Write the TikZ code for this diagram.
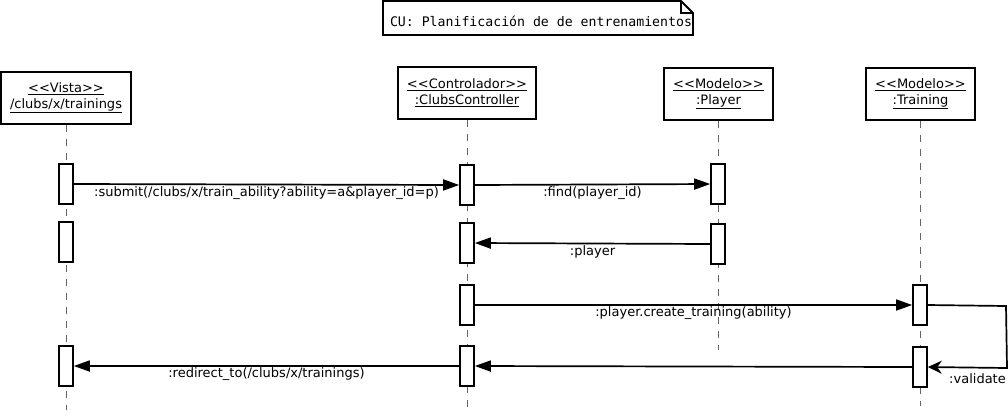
\documentclass[tikz,border=0pt]{standalone}
\usepackage{fontspec}
\setmainfont{DejaVu Sans}
\setmonofont{DejaVu Sans Mono}
\usetikzlibrary{arrows.meta, positioning, calc}

\begin{document}
\begin{tikzpicture}[x=1pt, y=-1pt,
  obj/.style={draw, line width=1.8pt, fill=white, align=center, inner sep=2pt,
    font=\fontsize{13}{16}\selectfont},
  act/.style={draw, line width=1.6pt, fill=white, minimum width=14pt,
    minimum height=40pt, inner sep=0pt},
  life/.style={draw=black!60, dash pattern=on 7pt off 7pt, line width=1pt},
  msg/.style={line width=1.7pt, -{Triangle[length=16pt, width=11pt]}},
  lbl/.style={font=\fontsize{13}{14}\selectfont, anchor=north, inner sep=1pt}]
\useasboundingbox (0,0) rectangle (1008,416);

% note
\node[font=\ttfamily\fontsize{13.2}{15}\selectfont, inner sep=0pt] (cu) at (541,21)
  {CU: Planificación de de entrenamientos};
\draw[line width=1.8pt] (383,1) -- (681,1) -- (693,13) -- (693,35) -- (383,35) -- cycle;
\draw[line width=1.2pt] (681,1) -- (681,13) -- (693,13);

% objects
\node[obj, minimum width=130pt, minimum height=52pt] (vista) at (66,98)
  {\underline{{<}{<}Vista{>}{>}}\\\underline{/clubs/x/trainings}};
\node[obj, minimum width=138pt, minimum height=52pt] (ctrl) at (467,93)
  {\underline{{<}{<}Controlador{>}{>}}\\\underline{:ClubsController}};
\node[obj, minimum width=109pt, minimum height=52pt] (player) at (718.5,94)
  {\underline{{<}{<}Modelo{>}{>}}\\\underline{:Player}};
\node[obj, minimum width=109pt, minimum height=52pt] (training) at (920.5,94)
  {\underline{{<}{<}Modelo{>}{>}}\\\underline{:Training}};

% lifelines
\coordinate (vistaend) at (66,410);
\coordinate (ctrlend) at (467,408);
\coordinate (playerend) at (718,350);
\coordinate (trainingend) at (920,406);
\draw[life] (vista.south) -- (vistaend);
\draw[life] (ctrl.south) -- (ctrlend);
\draw[life] (player.south -| playerend) -- (playerend);
\draw[life] (training.south -| trainingend) -- (trainingend);

% activations
\node[act] (v1) at (66,184) {};
\node[act] (v2) at (66,242) {};
\node[act] (v3) at (66,366) {};
\node[act] (c1) at (467,185) {};
\node[act] (c2) at (467,243) {};
\node[act] (c3) at (467,305) {};
\node[act] (c4) at (467,366) {};
\node[act] (p1) at (718,184) {};
\node[act] (p2) at (718,244) {};
\node[act] (t1) at (920,305) {};
\node[act] (t2) at (920,367) {};

% messages
\draw[msg] (v1.east) -- node[lbl] {:submit(/clubs/x/train\_ability?ability=a\&player\_id=p)} (c1.west);
\draw[msg] (c1.east) -- node[lbl] {:find(player\_id)} (p1.west);
\draw[msg] (p2.west) -- node[lbl] {:player} (c2.east);
\draw[msg] (c3.east) -- node[lbl] {:player.create\_training(ability)} (t1.west);
\coordinate (val1) at (1006,306);
\coordinate (val2) at (1007,368);
\draw[line width=1.7pt, -{Stealth[length=14pt, width=13pt]}] (t1.east) -- (val1) -- (val2) -- (t2.east);
\node[lbl, anchor=north east] (vallbl) at ([yshift=-4pt]val2) {:validate};
\draw[msg] (t2.west) -- (c4.east);
\draw[msg] (c4.west) -- node[lbl] {:redirect\_to(/clubs/x/trainings)} (v3.east);
\end{tikzpicture}
\end{document}
